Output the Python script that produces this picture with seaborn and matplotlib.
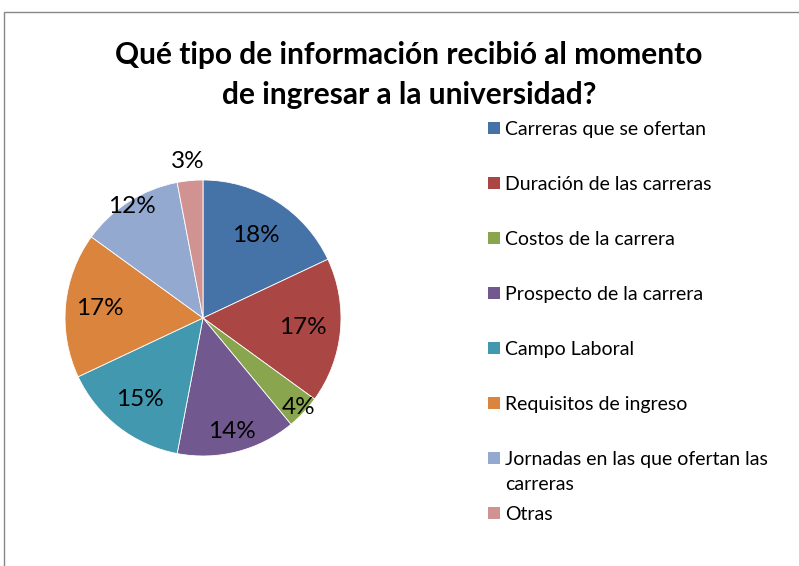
import matplotlib
matplotlib.use("Agg")
import matplotlib.pyplot as plt
from matplotlib.patches import Rectangle
import numpy as np
import seaborn as sns

# datos de la encuesta
categorias = [
    "Carreras que se ofertan",
    "Duración de las carreras",
    "Costos de la carrera",
    "Prospecto de la carrera",
    "Campo Laboral",
    "Requisitos de ingreso",
    "Jornadas en las que ofertan las\ncarreras",
    "Otras",
]
porcentajes = [18, 17, 4, 14, 15, 17, 12, 3]
colores = ["#4572A7", "#AA4643", "#89A54E", "#71588F",
           "#4198AF", "#DB843D", "#93A9CF", "#D19392"]
titulo = "Qué tipo de información recibió al momento\nde ingresar a la universidad?"

# distancia de cada etiqueta al centro (fracción del radio)
dist_etiquetas = [0.71, 0.73, 0.95, 0.85, 0.75, 0.75, 0.955, 1.14]

sns.set_theme(style="white")
plt.rcParams['font.family'] = ['Lato', 'DejaVu Sans']
plt.rcParams['text.color'] = 'black'

W, H = 799, 566
fig = plt.figure(figsize=(W / 100, H / 100), dpi=100)

# marco gris del gráfico
fig.patches.append(Rectangle((4 / W, -0.05), 1.0, 1 - 12 / H + 0.05,
                             transform=fig.transFigure, fill=False,
                             edgecolor="#878787", linewidth=1.0))

fig.text(409 / W, 1 - 75 / H, titulo, ha="center", va="center",
         fontsize=21.5, fontweight="bold", linespacing=1.5)

# pastel
cx, cy, r = 203, 318, 138
ax = fig.add_axes([(cx - r) / W, (H - cy - r) / H, 2 * r / W, 2 * r / H])
wedges, _ = ax.pie(porcentajes, colors=colores, startangle=90,
                   counterclock=False, radius=1,
                   wedgeprops=dict(edgecolor="white", linewidth=0.6))
ax.set_xlim(-1, 1)
ax.set_ylim(-1, 1)
ax.set_aspect("auto")
ax.axis("off")

for w, p, d in zip(wedges, porcentajes, dist_etiquetas):
    ang = np.deg2rad((w.theta1 + w.theta2) / 2)
    ax.text(d * np.cos(ang), d * np.sin(ang), f"{p}%", ha="center",
            va="center", fontsize=17.5, clip_on=False)

# leyenda
y0, paso = 128, 55
for i, (cat, col) in enumerate(zip(categorias, colores)):
    y = y0 + i * paso
    fig.patches.append(Rectangle((488 / W, 1 - (y + 6) / H), 12 / W, 12 / H,
                                 transform=fig.transFigure, facecolor=col,
                                 edgecolor="none"))
    for j, linea in enumerate(cat.split("\n")):
        fig.text(505 / W, 1 - (y + j * 25) / H, linea, ha="left",
                 va="center_baseline", fontsize=14)

fig.savefig("out.png", dpi=100)
